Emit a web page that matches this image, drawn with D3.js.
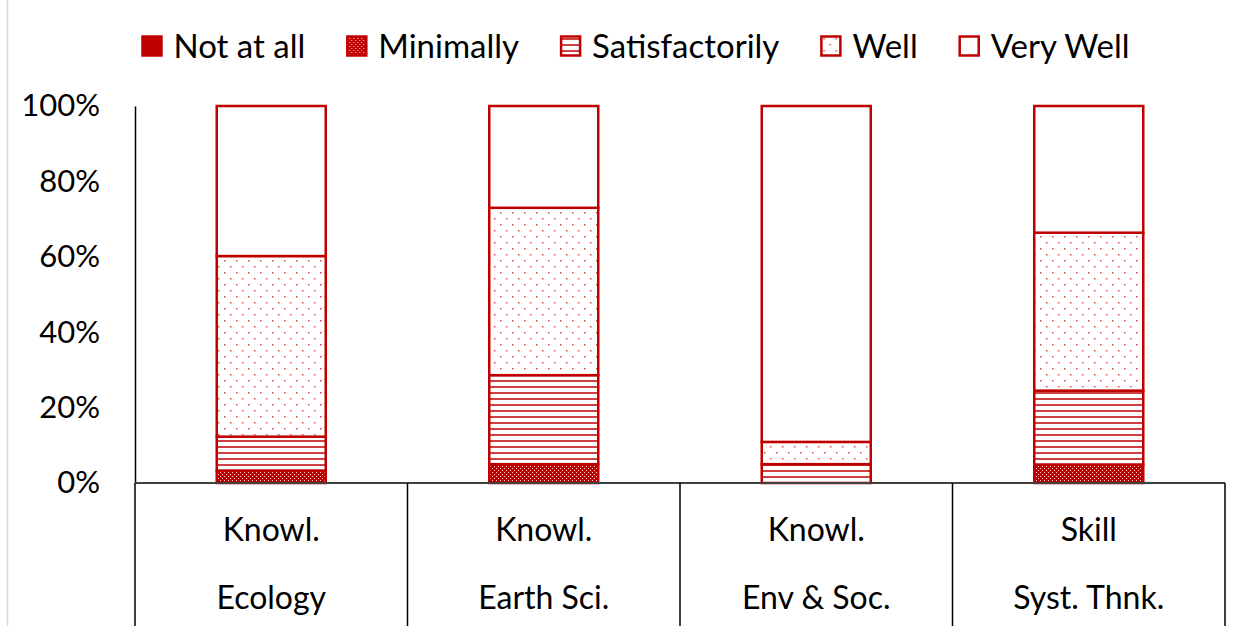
<!DOCTYPE html>
<html>
<head>
<meta charset="utf-8">
<script src="https://cdn.jsdelivr.net/npm/d3@7"></script>
<style>
  html, body { margin: 0; padding: 0; background: #fff; }
  svg { display: block; font-family: Lato, "Open Sans", sans-serif; }
</style>
</head>
<body>
<svg id="chart" width="1244" height="626"></svg>
<script>
// Competence ratings, percent of respondents per level
const topics = ["Knowl.|Ecology", "Knowl.|Earth Sci.", "Knowl.|Env & Soc.", "Skill|Syst. Thnk."];
const levels = ["Not at all", "Minimally", "Satisfactorily", "Well", "Very Well"];
const notAtAll       = [0,    0,    0,    0];
const minimally      = [3.3,  5.0,  0,    4.9];
const satisfactorily = [9.0,  23.6, 5.0,  19.6];
const well           = [47.9, 44.4, 5.9,  41.9];
const veryWell       = [39.8, 27.0, 89.1, 33.6];
const yTicks = [0, 20, 40, 60, 80, 100];

const seriesValues = [notAtAll, minimally, satisfactorily, well, veryWell];
const rows = topics.map((t, i) => {
  const r = { topic: t };
  levels.forEach((l, j) => { r[l] = seriesValues[j][i]; });
  return r;
});

const RED = "#C00000";
const svg = d3.select("#chart");
const W = 1244, H = 626;
const m = { left: 135, right: 1225, top: 106, bottom: 483 };

// ---- fill patterns ----
const defs = svg.append("defs");
const pMin = defs.append("pattern").attr("id", "p-min").attr("patternUnits", "userSpaceOnUse")
  .attr("width", 4).attr("height", 4);
pMin.append("rect").attr("width", 4).attr("height", 4).attr("fill", RED);
pMin.append("rect").attr("x", 0).attr("y", 0).attr("width", 1).attr("height", 1).attr("fill", "#fff").attr("opacity", 0.85);
pMin.append("rect").attr("x", 2).attr("y", 2).attr("width", 1).attr("height", 1).attr("fill", "#fff").attr("opacity", 0.85);

const pSat = defs.append("pattern").attr("id", "p-sat").attr("patternUnits", "userSpaceOnUse")
  .attr("width", 8).attr("height", 6);
pSat.append("rect").attr("width", 8).attr("height", 6).attr("fill", "#fff");
pSat.append("rect").attr("y", 2).attr("width", 8).attr("height", 2).attr("fill", RED).attr("opacity", 0.75);

const pWell = defs.append("pattern").attr("id", "p-well").attr("patternUnits", "userSpaceOnUse")
  .attr("width", 12).attr("height", 12);
pWell.append("rect").attr("width", 12).attr("height", 12).attr("fill", "#fff");
pWell.append("rect").attr("x", 2).attr("y", 2).attr("width", 1.5).attr("height", 1.5).attr("fill", RED).attr("opacity", 0.7);
pWell.append("rect").attr("x", 8).attr("y", 8).attr("width", 1.5).attr("height", 1.5).attr("fill", RED).attr("opacity", 0.7);

const fills = {
  "Not at all": RED,
  "Minimally": "url(#p-min)",
  "Satisfactorily": "url(#p-sat)",
  "Well": "url(#p-well)",
  "Very Well": "#fff"
};

// left edge of the chart frame
svg.append("line").attr("x1", 7.5).attr("x2", 7.5).attr("y1", 0).attr("y2", H)
  .attr("stroke", "#d9d9d9").attr("stroke-width", 1.5);

// ---- scales ----
const x = d3.scaleBand().domain(topics).range([m.left, m.right]).paddingInner(0.6).paddingOuter(0.3);
const xCell = d3.scaleBand().domain(topics).range([m.left, m.right]).padding(0);
const y = d3.scaleLinear().domain([0, 100]).range([m.bottom, m.top]);

// ---- y axis ----
const yAxis = svg.append("g").attr("transform", `translate(${m.left},0)`)
  .call(d3.axisLeft(y).tickValues(yTicks).tickFormat(d => d + "%").tickSize(0).tickSizeOuter(0).tickPadding(35));
yAxis.select(".domain").attr("stroke", "#000").attr("stroke-width", 1.5);
yAxis.selectAll("text").attr("font-size", 31).attr("fill", "#000").attr("font-family", "Lato, sans-serif");

// ---- stacked bars ----
const stacked = d3.stack().keys(levels)(rows);
const layer = svg.append("g").selectAll("g").data(stacked).join("g")
  .attr("fill", d => fills[d.key]);
layer.selectAll("rect").data(d => d.filter(s => s[1] - s[0] > 0)).join("rect")
  .attr("x", d => x(d.data.topic))
  .attr("width", x.bandwidth())
  .attr("y", d => y(d[1]))
  .attr("height", d => y(d[0]) - y(d[1]))
  .attr("stroke", RED).attr("stroke-width", 2.5);

// ---- x axis with category cells ----
svg.append("line").attr("x1", m.left).attr("x2", m.right).attr("y1", m.bottom).attr("y2", m.bottom)
  .attr("stroke", "#404040").attr("stroke-width", 2);
const cellEdges = topics.map(t => xCell(t)).concat([xCell(topics[topics.length - 1]) + xCell.bandwidth()]);
svg.append("g").selectAll("line").data(cellEdges).join("line")
  .attr("x1", d => d).attr("x2", d => d).attr("y1", m.bottom).attr("y2", H)
  .attr("stroke", "#000").attr("stroke-width", 1.5);
const cats = svg.append("g").selectAll("g").data(topics).join("g")
  .attr("transform", d => `translate(${xCell(d) + xCell.bandwidth() / 2},0)`);
cats.append("text").attr("y", 530).attr("dy", "0.35em").attr("text-anchor", "middle")
  .attr("font-size", 32).attr("fill", "#000").text(d => d.split("|")[0]);
cats.append("text").attr("y", 598).attr("dy", "0.35em").attr("text-anchor", "middle")
  .attr("font-size", 32).attr("fill", "#000").text(d => d.split("|")[1]);

// ---- legend ----
const legend = svg.append("g");
const sw = 19, gapText = 12, gapItem = 42, legendY = 46;
const items = legend.selectAll("g").data(levels).join("g");
items.append("rect").attr("width", sw).attr("height", sw).attr("y", legendY - sw / 2)
  .attr("fill", d => fills[d]).attr("stroke", RED).attr("stroke-width", 2.5);
items.append("text").attr("x", sw + gapText).attr("y", legendY).attr("dy", "0.35em")
  .attr("font-size", 33).attr("fill", "#000").text(d => d);
let cx = 0;
const widths = [];
items.each(function () { widths.push(this.getBBox().width); });
const total = d3.sum(widths) + gapItem * (widths.length - 1);
cx = 636 - total / 2;
items.attr("transform", (d, i) => {
  const t = `translate(${cx},0)`;
  cx += widths[i] + gapItem;
  return t;
});
</script>
</body>
</html>
